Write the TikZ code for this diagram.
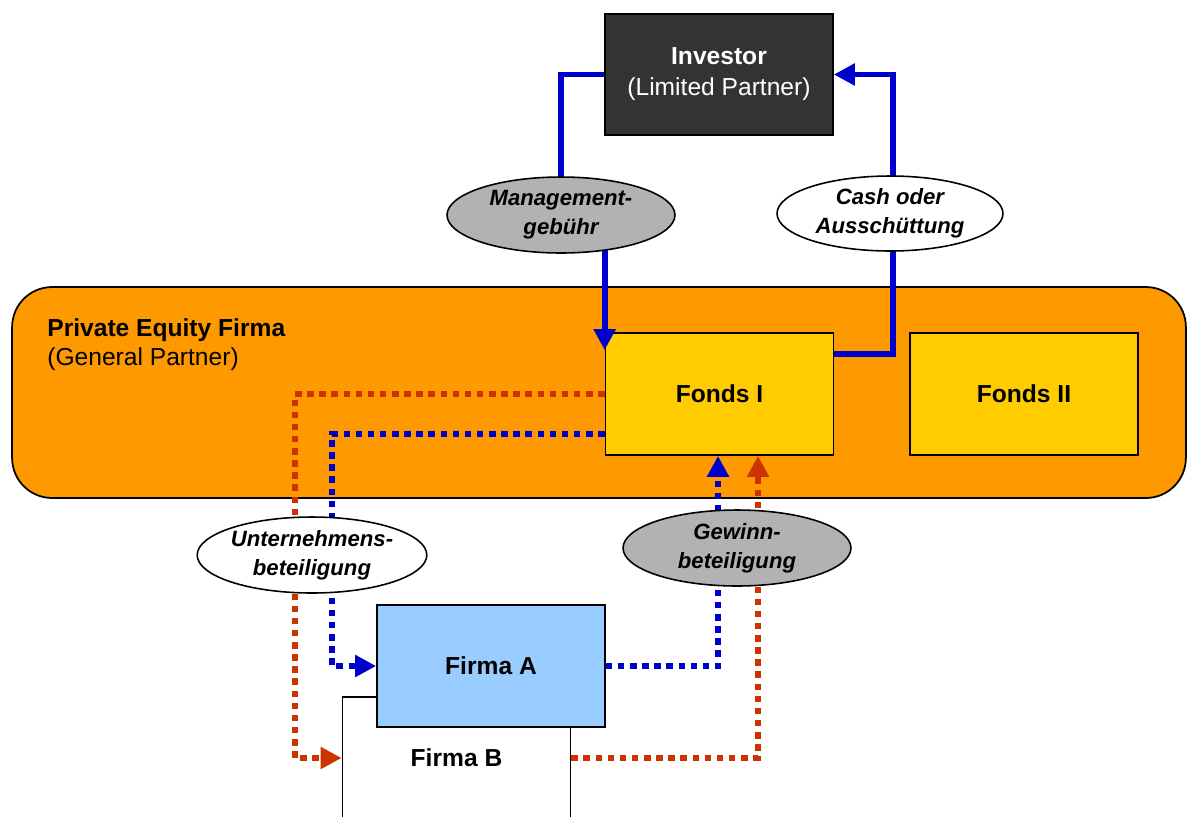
\documentclass[tikz,border=0pt]{standalone}
\usepackage{fontspec}
\setmainfont{Liberation Sans}
\usetikzlibrary{arrows.meta,shapes.geometric,calc}
\pgfdeclarelayer{bg}
\pgfdeclarelayer{conn}
\pgfsetlayers{bg,conn,main}
\definecolor{lineblue}{HTML}{0000CC}
\definecolor{lineorange}{HTML}{CC3300}
\definecolor{peorange}{HTML}{FF9900}
\definecolor{fondsyellow}{HTML}{FFCC00}
\definecolor{firmablue}{HTML}{99CCFF}
\definecolor{ellgray}{HTML}{B2B2B2}
\definecolor{invgray}{HTML}{333333}
\begin{document}
\begin{tikzpicture}[x=0.02cm,y=-0.02cm,
  box/.style={draw=black, line width=1pt, rectangle, minimum width=4.56cm, minimum height=2.44cm,
    inner sep=0pt, align=center, font=\bfseries\fontsize{14}{17.6}\selectfont},
  ell/.style={ellipse, draw=black, line width=0.9pt, minimum width=4.56cm, minimum height=1.52cm,
    inner sep=0pt, align=center, font=\bfseries\itshape\fontsize{12.6}{16.4}\selectfont},
  flow/.style={lineblue, line width=3.4pt},
  dotb/.style={lineblue, line width=3.4pt, dash pattern=on 3.7pt off 3.2pt},
  dotr/.style={lineorange, line width=3.4pt, dash pattern=on 3.7pt off 3.2pt},
  tip/.style={-{Triangle[length=12pt,width=12pt]}},
  lbl/.style={inner sep=0pt, font=\fontsize{14}{17.6}\selectfont}
]
\useasboundingbox (0,0) rectangle (1188,816);
\clip (0,0) rectangle (1188,816);

\begin{pgfonlayer}{bg}
  \node[draw=black, line width=1pt, fill=peorange, rounded corners=0.8cm, minimum width=23.48cm,
        minimum height=4.22cm, inner sep=0pt] (pe) at (599,392.5) {};
  \node[box, fill=fondsyellow] (fonds1) at (719.5,394) {Fonds I};
  \node[box, fill=fondsyellow] (fonds2) at (1024,394) {Fonds II};
\end{pgfonlayer}

\node[lbl, anchor=base west, font=\bfseries\fontsize{14}{17.6}\selectfont] (pet) at (47,336) {Private Equity Firma};
\node[lbl, anchor=base west] (pes) at (47,365) {(General Partner)};

\node[box, fill=invgray, text=white, minimum height=2.42cm] (inv) at (719,74.5)
  {Investor\\{\mdseries (Limited Partner)}};

\node[box, fill=white] (firmaB) at (456.5,758) {Firma B};
\node[box, fill=firmablue] (firmaA) at (491,666) {Firma A};

\node[ell, fill=ellgray] (mgmt) at (561,215) {Management-\\gebühr};
\node[ell, fill=white, minimum width=4.52cm, minimum height=1.5cm] (cash) at (890,213.5) {Cash oder\\Ausschüttung};
\node[ell, fill=white] (unt) at (312,555) {Unternehmens-\\beteiligung};
\node[ell, fill=ellgray] (gew) at (737,548) {Gewinn-\\beteiligung};

\coordinate (ox) at (295,0);
\coordinate (ux) at (332,0);
\coordinate (bx) at (718,0);
\coordinate (rx) at (758,0);
\coordinate (cx) at (893,0);
\coordinate (f1b) at ([yshift=0.44cm]fonds1.south west);
\coordinate (f1r) at ([yshift=-0.44cm]fonds1.north east);

\begin{pgfonlayer}{conn}
  \draw[flow, tip] (inv.west) -| (mgmt.center) -- (mgmt.center -| fonds1.north west)
        -- ([yshift=-0.36cm]fonds1.north west);
  \draw[flow, tip] (f1r) -| (cx |- cash.center) |- (inv.east);
  \draw[dotr, tip] (fonds1.west) -- (fonds1.west -| ox) |- (firmaB.west);
  \draw[dotb, tip] (f1b) -- (f1b -| ux) |- (firmaA.west);
  \draw[dotb, tip] (firmaA.east) -| (bx |- fonds1.south);
  \draw[dotr, tip] (firmaB.east) -| (rx |- fonds1.south);
\end{pgfonlayer}
\end{tikzpicture}
\end{document}
